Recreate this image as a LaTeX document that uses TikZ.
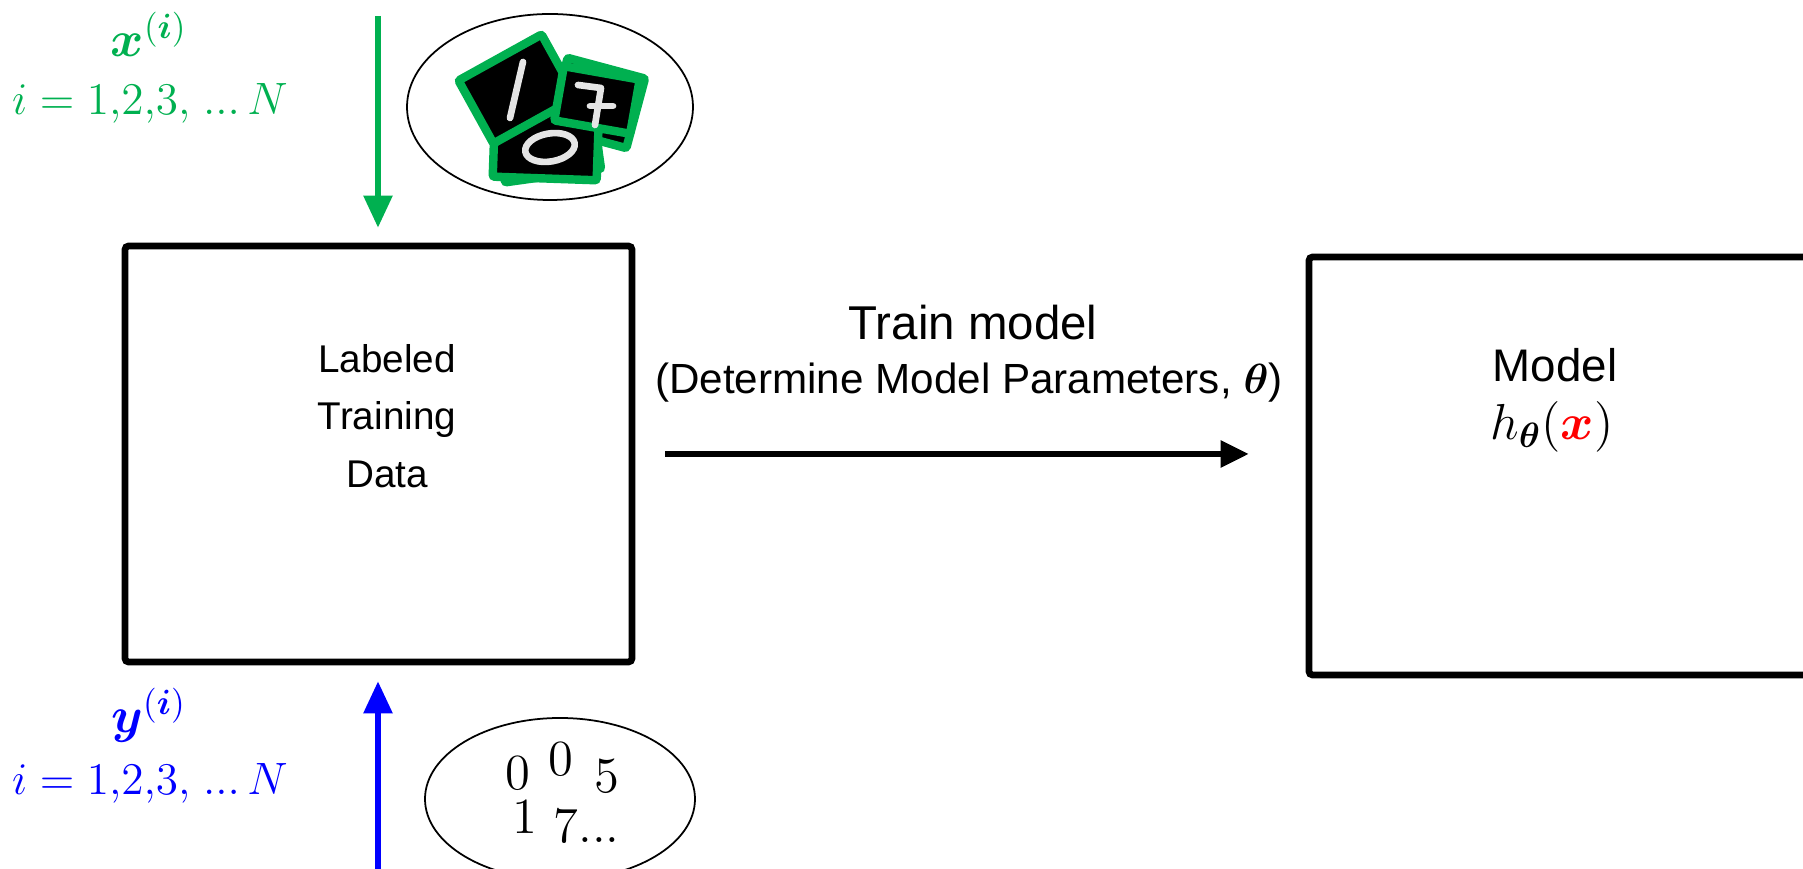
\documentclass[tikz,border=0pt]{standalone}
\usepackage{amsmath,amssymb}
\usepackage{bm}
\usepackage{graphicx}
\usepackage{fontspec}
\setmainfont{Liberation Sans}
\usepackage{tikz}
\usetikzlibrary{arrows.meta, positioning, shapes.geometric}
\definecolor{xgreen}{HTML}{00B050}
\definecolor{yblue}{HTML}{0000FF}

% one handwritten-digit thumbnail: centre x, centre y, angle, half width, half height
\newcommand{\mnistcard}[5]{\draw[card, shift={(#1,#2)}, rotate=#3] (-#4,-#5) rectangle (#4,#5);}
\newcommand{\idxrange}{\scalebox{1.075}{$i = 1{,}2{,}3{,}\ {.}{.}{.}\,N$}}

\begin{document}
\begin{tikzpicture}[
    block/.style={draw, line width=1.9pt, rounded corners=1pt, inner sep=0pt},
    blob/.style={draw, ellipse, line width=0.5pt, inner sep=0pt},
    card/.style={draw=xgreen, fill=black, line width=2.4pt, rounded corners=0.6pt},
    stroke/.style={white!90!black, line width=1.9pt, line cap=round, line join=round},
    feed/.style={-{Triangle[length=0.32cm, width=0.28cm]}, line width=1.6pt},
    train/.style={-{Triangle[length=0.28cm, width=0.26cm]}, line width=1.6pt},
    lbl/.style={font=\fontsize{11}{16.3}\selectfont, align=center},
    idx/.style={font=\fontsize{12}{15}\selectfont, anchor=base, inner sep=1pt},
    digit/.style={font=\fontsize{14.4}{17}\selectfont, inner sep=0pt}
]
\useasboundingbox (0,0) rectangle (18.03,8.69);
\clip (0,0) rectangle (18.03,8.69);

\node[block, minimum width=5.07cm, minimum height=4.16cm] (data) at (3.785,4.15) {};
\node[block, minimum width=5.31cm, minimum height=4.18cm] (model) at (15.745,4.03) {};

\node[lbl] (datatxt) at (3.87,4.53) {Labeled\\Training\\Data};
\node[idx, font=\fontsize{13}{15}\selectfont] (modeltxt) at (15.55,4.87) {Model};
\node[idx, font=\fontsize{14.4}{16}\selectfont] (modelfn) at (15.52,4.29) {$h_{\bm{\theta}}(\textcolor{red}{\bm{x}})$};

\node[idx, font=\fontsize{13.5}{16}\selectfont] (traintitle) at (9.73,5.29) {Train model};
\node[lbl, font=\fontsize{12}{16}\selectfont] (traintxt) at (9.69,4.86)
    {(Determine Model Parameters, $\bm{\theta}$)};
\draw[train, shorten <=0.30cm, shorten >=0.57cm] (data.east) -- (data.east -| model.west);

% inputs
\coordinate (xsrc) at (3.78,8.53);
\draw[feed, xgreen, shorten >=0.15cm] (xsrc) -- (xsrc |- data.north);
\node[idx, xgreen, font=\fontsize{14.4}{16}\selectfont] (xsym) at (1.49,8.12) {$\bm{x}^{(\bm{i})}$};
\node[idx, xgreen] (xrange) at (1.50,7.54) {\idxrange};

\node[blob, minimum width=2.86cm, minimum height=1.86cm] (imgs) at (5.50,7.62) {};
\mnistcard{5.48}{7.29}{8}{0.485}{0.36}
\mnistcard{5.97}{7.66}{-15}{0.40}{0.36}
\mnistcard{5.46}{7.28}{-2}{0.52}{0.375}
\draw[stroke, rotate around={10:(5.50,7.215)}] (5.50,7.215) ellipse (0.25 and 0.14);
\mnistcard{5.175}{7.80}{29}{0.475}{0.36}
\draw[stroke] (5.10,7.51) -- (5.23,8.07);
\mnistcard{5.97}{7.69}{-10}{0.385}{0.275}
\draw[stroke] (5.78,7.84) -- (6.01,7.81) -- (5.95,7.44);
\draw[stroke] (5.90,7.63) -- (6.13,7.63);

% labels
\coordinate (ysrc) at (3.78,-0.1);
\draw[feed, yblue, shorten >=0.16cm] (ysrc) -- (ysrc |- data.south);
\node[idx, yblue, font=\fontsize{14.4}{16}\selectfont] (ysym) at (1.49,1.36) {$\bm{y}^{(\bm{i})}$};
\node[idx, yblue] (yrange) at (1.50,0.74) {\idxrange};

\node[blob, minimum width=2.70cm, minimum height=1.62cm] (labels) at (5.60,0.70) {};
\node[digit] (n0a) at (5.18,0.96) {$0$};
\node[digit] (n0b) at (5.61,1.10) {$0$};
\node[digit] (n5) at (6.07,0.93) {$5$};
\node[digit] (n1) at (5.25,0.52) {$1$};
\node[digit, anchor=west] (n7) at (5.53,0.43) {$7{.}{.}{.}$};
\end{tikzpicture}
\end{document}
